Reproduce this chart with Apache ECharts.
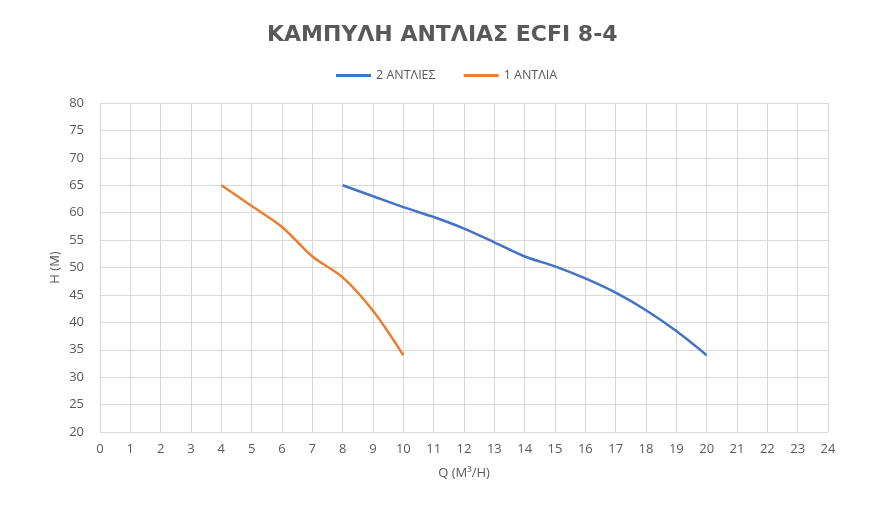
<!DOCTYPE html>
<html>
<head>
<meta charset="utf-8">
<script src="https://cdn.jsdelivr.net/npm/echarts@6/dist/echarts.min.js"></script>
<style>
  html, body { margin: 0; padding: 0; background: #ffffff; }
  #chart { width: 896px; height: 519px; }
</style>
</head>
<body>
<div id="chart"></div>
<script>
const TITLE = "ΚΑΜΠΥΛΗ ΑΝΤΛΙΑΣ ECFI 8-4";
const SERIES_NAMES = ["2 ΑΝΤΛΙΕΣ", "1 ΑΝΤΛΙΑ"];

// Q (m3/h) and H (m)
const Q_TWO = [8, 9, 10, 11, 12, 13, 14, 15, 16, 17, 18, 19, 20];
const H_TWO = [65, 63, 61, 59.2, 57.1, 54.6, 52, 50.2, 48, 45.4, 42.2, 38.4, 34];
const Q_ONE = [4, 5, 6, 7, 8, 9, 10];
const H_ONE = [65, 61.2, 57.4, 52, 48.2, 42.1, 34];

const X_MIN = 0, X_MAX = 24, X_STEP = 1;
const Y_MIN = 20, Y_MAX = 80, Y_STEP = 5;

const textColor = "#595959";
const gridColor = "#d9d9d9";
const colors = ["#4472c4", "#ed7d31"];

const zip = (xs, ys) => xs.map((x, i) => [x, ys[i]]);

const chart = echarts.init(document.getElementById("chart"));

chart.setOption({
  animation: false,
  backgroundColor: "#ffffff",
  textStyle: { fontFamily: "Open Sans, Noto Sans, sans-serif" },
  title: {
    text: TITLE,
    left: 262,
    top: 19,
    textStyle: {
      color: textColor,
      fontSize: 22,
      fontWeight: "bold",
      fontFamily: "DejaVu Sans"
    }
  },
  legend: {
    top: 64,
    left: 331,
    itemWidth: 35,
    itemHeight: 3,
    itemGap: 28,
    icon: "rect",
    textStyle: { color: textColor, fontSize: 12.5 },
    data: SERIES_NAMES
  },
  grid: { left: 100, right: 68, top: 103, bottom: 87 },
  xAxis: {
    type: "value",
    min: X_MIN,
    max: X_MAX,
    interval: X_STEP,
    name: "Q (M³/H)",
    nameLocation: "middle",
    nameGap: 35,
    nameTextStyle: { color: textColor, fontSize: 13 },
    axisLine: { show: true, lineStyle: { color: gridColor } },
    axisTick: { show: false },
    axisLabel: { color: textColor, fontSize: 13, margin: 11 },
    splitLine: { show: true, lineStyle: { color: gridColor } }
  },
  yAxis: {
    type: "value",
    min: Y_MIN,
    max: Y_MAX,
    interval: Y_STEP,
    name: "H (M)",
    nameLocation: "middle",
    nameGap: 38,
    nameMoveOverlap: false,
    nameTextStyle: { color: textColor, fontSize: 13 },
    axisLine: { show: true, lineStyle: { color: gridColor } },
    axisTick: { show: false },
    axisLabel: { color: textColor, fontSize: 13, margin: 16 },
    splitLine: { show: true, lineStyle: { color: gridColor } }
  },
  series: [
    {
      name: SERIES_NAMES[0],
      type: "line",
      data: zip(Q_TWO, H_TWO),
      smooth: 0.3,
      symbol: "none",
      lineStyle: { color: colors[0], width: 2.5 },
      itemStyle: { color: colors[0] }
    },
    {
      name: SERIES_NAMES[1],
      type: "line",
      data: zip(Q_ONE, H_ONE),
      smooth: 0.3,
      symbol: "none",
      lineStyle: { color: colors[1], width: 2.5 },
      itemStyle: { color: colors[1] }
    }
  ]
});
</script>
</body>
</html>
